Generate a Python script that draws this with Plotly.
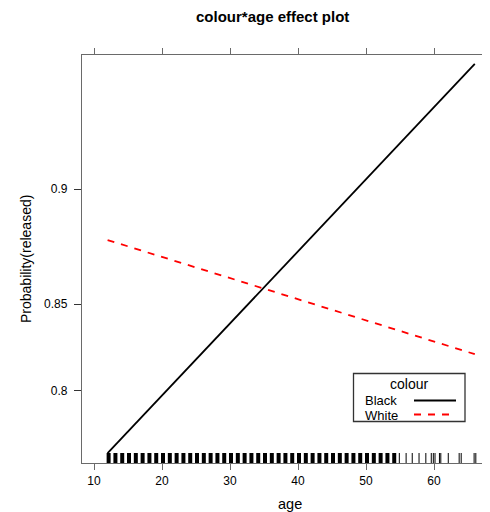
import numpy as np
import plotly.graph_objects as go

# ---- data ----
age = [12, 66]
black_prob = [0.757, 0.937]
white_prob = [0.880, 0.8226]
ytick_probs = [0.8, 0.85, 0.9]
xtick_vals = [10, 20, 30, 40, 50, 60]
rug_dense = list(range(12, 55))
rug_sparse = [54.9, 55.9, 56.8, 57.8, 58.8, 59.6, 59.9, 60.15, 60.8, 61.0,
              62.1, 63.7, 64.0, 65.9, 66.15]
legend_title = "colour"
legend_labels = ["Black", "White"]


def logit(p):
    p = np.asarray(p, dtype=float)
    return np.log(p / (1 - p))


OFF = 8                      # page body margin of the browser
W, H = 490 - OFF, 512 - OFF
PL, PT, PB, PR = 82, 55, 463, 490   # plot area in page pixels
L, T, B, R = PL - OFF, PT - OFF, 512 - PB, 0
PW, PH = PR - PL, PB - PT


def px(xp):
    return (xp - PL) / PW


def py(yp):
    return (PB - yp) / PH


FONT = "Liberation Sans, Arial, Helvetica, sans-serif"
AX = "#6a6a6a"

fig = go.Figure()
fig.add_trace(go.Scatter(x=age, y=logit(black_prob), mode="lines",
                         line=dict(color="black", width=1.8),
                         name=legend_labels[0], showlegend=False))
fig.add_trace(go.Scatter(x=age, y=logit(white_prob), mode="lines",
                         line=dict(color="#ff0000", width=1.8, dash="7px,7px"),
                         name=legend_labels[1], showlegend=False))

shapes = []
for a in rug_dense:
    shapes.append(dict(type="line", xref="x", yref="y domain",
                       x0=a + 0.15, x1=a + 0.15, y0=0, y1=10 / PH,
                       line=dict(color="black", width=4)))
for a in rug_sparse:
    shapes.append(dict(type="line", xref="x", yref="y domain",
                       x0=a, x1=a, y0=0, y1=10 / PH,
                       line=dict(color="black", width=1)))

# legend box
shapes.append(dict(type="rect", xref="paper", yref="paper",
                   x0=px(353.5), x1=px(465), y0=py(373.5), y1=py(421.5),
                   line=dict(color="#333333", width=1.3), fillcolor="white",
                   layer="above"))
shapes.append(dict(type="line", xref="paper", yref="paper",
                   x0=px(414), x1=px(456), y0=py(400.5), y1=py(400.5),
                   line=dict(color="black", width=1.8), layer="above"))
shapes.append(dict(type="line", xref="paper", yref="paper",
                   x0=px(414), x1=px(450), y0=py(414.5), y1=py(414.5),
                   line=dict(color="#ff0000", width=1.8, dash="7px,7px"),
                   layer="above"))

annotations = [
    dict(text="<b>colour*age effect plot</b>", xref="paper", yref="paper",
         x=px(272), y=py(16.5), showarrow=False, xanchor="center", yanchor="middle",
         font=dict(size=15, color="black", family=FONT)),
    dict(text="Probability(released)", xref="paper", yref="paper",
         x=px(26), y=py(259), showarrow=False, textangle=-90,
         xanchor="center", yanchor="middle",
         font=dict(size=14, color="black", family=FONT)),
    dict(text="age", xref="paper", yref="paper",
         x=px(290), y=py(504), showarrow=False, xanchor="center", yanchor="middle",
         font=dict(size=14.5, color="black", family=FONT)),
    dict(text=legend_title, xref="paper", yref="paper",
         x=px(409), y=py(384), showarrow=False, xanchor="center", yanchor="middle",
         font=dict(size=14, color="black", family=FONT)),
    dict(text=legend_labels[0], xref="paper", yref="paper",
         x=px(362.5), y=py(400.5), showarrow=False, xanchor="left", yanchor="middle",
         font=dict(size=13, color="black", family=FONT)),
    dict(text=legend_labels[1], xref="paper", yref="paper",
         x=px(362.5), y=py(415), showarrow=False, xanchor="left", yanchor="middle",
         font=dict(size=13, color="black", family=FONT)),
]

fig.update_layout(
    width=W, height=H,
    margin=dict(l=L, r=R, t=T, b=B, pad=0),
    paper_bgcolor="white", plot_bgcolor="white",
    showlegend=False,
    shapes=shapes, annotations=annotations,
    font=dict(family=FONT, color="black"),
)
fig.update_xaxes(range=[10 - 12 / 6.8, 10 + 396 / 6.8],
                 tickvals=xtick_vals, ticktext=[str(v) for v in xtick_vals],
                 ticks="outside", ticklen=6, tickwidth=1.2, tickcolor=AX,
                 showline=True, linecolor=AX, linewidth=1.3, mirror="ticks",
                 showgrid=False, zeroline=False,
                 tickfont=dict(size=12, color="black", family=FONT))
fig.update_yaxes(range=[1.0971, 2.7354],
                 tickvals=logit(ytick_probs).tolist(),
                 ticktext=[f"{v:g}" for v in ytick_probs],
                 ticks="outside", ticklen=7, tickwidth=1.2, tickcolor="#333333",
                 showline=True, linecolor=AX, linewidth=1.3, mirror=False,
                 showgrid=False, zeroline=False, ticklabelstandoff=4,
                 tickfont=dict(size=12, color="black", family=FONT))

fig.write_html("out.html")
